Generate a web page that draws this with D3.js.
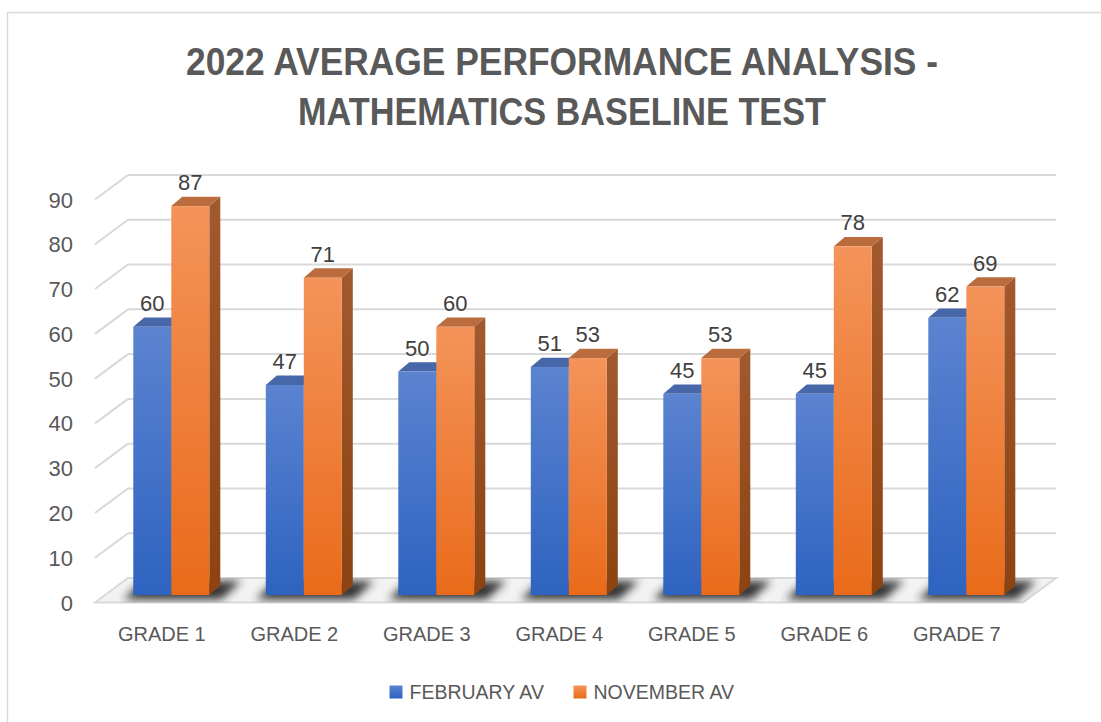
<!DOCTYPE html>
<html><head><meta charset="utf-8">
<script src="https://cdn.jsdelivr.net/npm/d3@7/dist/d3.min.js"></script>
<style>html,body{margin:0;padding:0;background:#fff;overflow:hidden}</style>
</head><body>
<script>
const categories = ["GRADE 1","GRADE 2","GRADE 3","GRADE 4","GRADE 5","GRADE 6","GRADE 7"];
const seriesNames = ["FEBRUARY AV","NOVEMBER AV"];
const februaryAv = [60,47,50,51,45,45,62];
const novemberAv = [87,71,60,53,53,78,69];
const yTicks = [0,10,20,30,40,50,60,70,80,90];
const titleLines = ["2022 AVERAGE PERFORMANCE ANALYSIS -","MATHEMATICS BASELINE TEST"];

const W = 1101, H = 722;
const svg = d3.select("body").append("svg").attr("width", W).attr("height", H)
  .style("font-family", "'Liberation Sans', Arial, sans-serif");
const defs = svg.append("defs");

function lin(id, stops){
  const g = defs.append("linearGradient").attr("id", id).attr("x1",0).attr("y1",0).attr("x2",0).attr("y2",1);
  stops.forEach(s => g.append("stop").attr("offset", s[0]).attr("stop-color", s[1]));
}
lin("gBlue", [[0,"#5b83d0"],[1,"#2e63c0"]]);
lin("gOrange", [[0,"#f4935a"],[1,"#e96b1a"]]);
lin("gOrangeSide", [[0,"#a1592e"],[1,"#8c4311"]]);
defs.append("filter").attr("id","blur").attr("x","-50%").attr("y","-50%").attr("width","200%").attr("height","200%")
  .append("feGaussianBlur").attr("stdDeviation", 4);

// border
svg.append("rect").attr("x",7.5).attr("y",12.5).attr("width",1200).attr("height",800)
  .attr("fill","#fff").attr("stroke","#d9d9d9").attr("stroke-width",1.5);

// title
const titleLen = [752, 528];
svg.append("g").selectAll("text").data(titleLines).join("text")
  .attr("x", 562).attr("y", (d,i) => 75 + i*50)
  .attr("text-anchor","middle").attr("font-weight","bold").attr("font-size", 39)
  .attr("textLength", (d,i) => titleLen[i]).attr("lengthAdjust","spacingAndGlyphs")
  .attr("fill","#595959").text(d => d);

// scales
const groupWidth = 76, step = 132.5;
const x = d3.scaleBand().domain(categories).range([105.05, 105.05 + 7*step]).paddingInner(0).paddingOuter(0);
const xs = d3.scaleBand().domain(seriesNames).range([0, groupWidth]);
const groupOffset = (step - groupWidth)/2;
const yBack = d3.scaleLinear().domain([0,90]).range([578,175]);
const yBar = d3.scaleLinear().domain([0,90]).range([595, 595 - 90*4.47]);
const wallFrontX = 95, wallBackX = 128, wallRightX = 1056, wallDy = 24.5;
const bdx = 11, bdy = -9.3;

// gridlines: back wall + left wall diagonal
const grid = svg.append("g").attr("stroke","#d9d9d9").attr("stroke-width",2).attr("fill","none");
grid.selectAll("line.back").data(yTicks.filter(d=>d>0)).join("line").attr("class","back")
  .attr("x1", wallBackX).attr("x2", wallRightX).attr("y1", d=>yBack(d)).attr("y2", d=>yBack(d));
grid.selectAll("line.diag").data(yTicks.filter(d=>d>0)).join("line").attr("class","diag")
  .attr("x1", wallFrontX).attr("y1", d=>yBack(d)+wallDy).attr("x2", wallBackX).attr("y2", d=>yBack(d));

// floor
const fy0 = yBack(0), fy1 = yBack(0) + wallDy;
const floorPts = [[wallFrontX,fy1],[wallRightX-33,fy1],[wallRightX,fy0],[wallBackX,fy0]].map(p=>p.join(",")).join(" ");
svg.append("polygon").attr("points", floorPts)
  .attr("fill","#f2f2f2").attr("stroke","#d9d9d9").attr("stroke-width",2);
defs.append("clipPath").attr("id","floorClip").append("polygon").attr("points", floorPts);

// shadows
const shadowG = svg.append("g").attr("clip-path","url(#floorClip)");
shadowG.selectAll("polygon").data(categories).join("polygon")
  .attr("points", c => {
    const x0 = x(c) + groupOffset, x1 = x0 + groupWidth;
    return [[x0-10,fy1-3],[x1+12,fy1-3],[x1+32,fy0+3],[x0+10,fy0+3]].map(p=>p.join(",")).join(" ");
  })
  .attr("fill","#2a2a2a").attr("opacity",0.95).attr("filter","url(#blur)");

// bars
const data = categories.map((c,i) => ({c, vals:[
  {s:seriesNames[0], v:februaryAv[i]}, {s:seriesNames[1], v:novemberAv[i]}]}));
const fills = {
  [seriesNames[0]]: {front:"url(#gBlue)", top:"#4767a9", side:"#2c4f94"},
  [seriesNames[1]]: {front:"url(#gOrange)", top:"#bb6c3e", side:"url(#gOrangeSide)"}
};
const pts = a => a.map(p=>p.join(",")).join(" ");
const groups = svg.append("g").selectAll("g").data(data).join("g");
groups.each(function(d){
  const g = d3.select(this);
  d.vals.forEach(b => {
    const xa = x(d.c) + groupOffset + xs(b.s), xb = xa + xs.bandwidth();
    const yt = yBar(b.v), y0 = yBar(0);
    const f = fills[b.s];
    g.append("polygon").attr("points", pts([[xb,y0],[xb+bdx,y0+bdy],[xb+bdx,yt+bdy],[xb,yt]])).attr("fill", f.side);
    g.append("polygon").attr("points", pts([[xa,yt],[xa+bdx,yt+bdy],[xb+bdx,yt+bdy],[xb,yt]])).attr("fill", f.top);
    g.append("rect").attr("x", xa).attr("y", yt).attr("width", xb-xa).attr("height", y0-yt).attr("fill", f.front);
  });
});
// data labels
groups.each(function(d){
  const g = d3.select(this);
  d.vals.forEach(b => {
    const xc = x(d.c) + groupOffset + xs(b.s) + xs.bandwidth()/2;
    g.append("text").attr("x", xc).attr("y", yBar(b.v) - 16)
      .attr("text-anchor","middle").attr("font-size",22).attr("fill","#404040").text(b.v);
  });
});

// y axis labels
svg.append("g").selectAll("text").data(yTicks).join("text")
  .attr("x", 73).attr("y", d => yBack(d) + wallDy + 8)
  .attr("text-anchor","end").attr("font-size",22).attr("fill","#595959").text(d=>d);

// category labels
svg.append("g").selectAll("text").data(categories).join("text")
  .attr("x", c => x(c) + x.bandwidth()/2 - 9.5).attr("y", 641)
  .attr("text-anchor","middle").attr("font-size",20).attr("fill","#595959").text(c=>c);

// legend
const legendX = [389.5, 573.5];
const lg = svg.append("g").selectAll("g").data(seriesNames).join("g")
  .attr("transform",(d,i)=>`translate(${legendX[i]},685.5)`);
lg.append("rect").attr("width",13).attr("height",13).attr("fill",(d,i)=>i===0?"url(#gBlue)":"url(#gOrange)");
lg.append("text").attr("x",20).attr("y",13.5).attr("font-size",19.5).attr("fill","#595959").text(d=>d);
</script>
</body></html>
